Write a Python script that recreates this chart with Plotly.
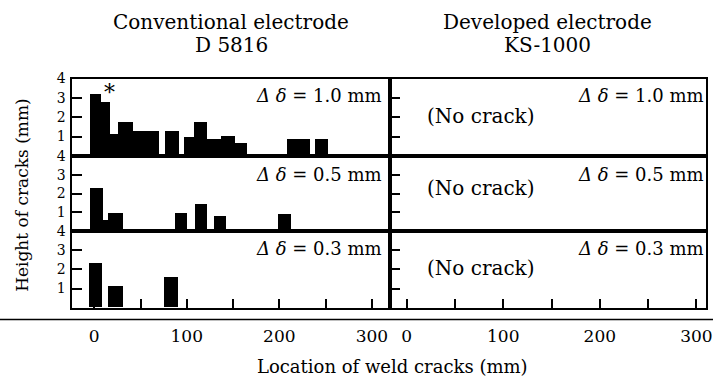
import plotly.graph_objects as go

# ---------------- data (mm) ----------------
# Conventional electrode D5816: crack segments (start, end along weld) and height
d10_start = [-4, 7.5, 17, 25.7, 41.8, 77, 97.5, 108.3, 122.2, 137.2, 152.2, 209, 239]
d10_end   = [7.5, 17, 25.7, 41.8, 70.7, 92, 108.3, 122.2, 137.2, 152.2, 165, 233.7, 253]
d10_h     = [3.2, 2.8, 1.15, 1.8, 1.3, 1.3, 1.0, 1.8, 0.9, 1.05, 0.7, 0.9, 0.9]

d05_start = [-4, 9.6, 15, 88, 109, 130, 199]
d05_end   = [9.6, 15, 31, 100.7, 122, 142.5, 213]
d05_h     = [2.3, 0.6, 1.0, 1.0, 1.45, 0.8, 0.9]

d03_start = [-5, 15, 76]
d03_end   = [8.6, 31, 91]
d03_h     = [2.35, 1.1, 1.6]

delta_labels = ["1.0", "0.5", "0.3"]
col_title_1 = ["Conventional electrode", "Developed electrode"]
col_title_2 = ["D 5816", "KS-1000"]
y_ticks = [1, 2, 3, 4]
x_ticks = [0, 100, 200, 300]

FONT = "DejaVu Serif"
W, H = 719, 386

def px_x(p):
    return p / W

def px_y(p):
    return 1 - p / H

left_dom = [px_x(73), px_x(393)]
right_dom = [px_x(393), px_x(712)]
row_px = [(72, 151), (151, 228), (228, 306)]
row_dom = [[px_y(b), px_y(t)] for t, b in row_px]

left_range = [-23.6, 319.3]
right_range = [-17.5, 310]

fig = go.Figure()
series = [(d10_start, d10_end, d10_h), (d05_start, d05_end, d05_h), (d03_start, d03_end, d03_h)]

layout = dict(
    width=W, height=H, margin=dict(l=0, r=0, t=0, b=0),
    paper_bgcolor="white", plot_bgcolor="white", showlegend=False,
    font=dict(family=FONT, color="black"), bargap=0,
)

label_y = [0.78, 0.75, 0.78]
nocrack_y = [0.52, 0.57, 0.52]
annotations = []
for r in range(3):
    for c in range(2):
        idx = r * 2 + c + 1
        xa = "xaxis" if idx == 1 else f"xaxis{idx}"
        ya = "yaxis" if idx == 1 else f"yaxis{idx}"
        xref = "x" if idx == 1 else f"x{idx}"
        yref = "y" if idx == 1 else f"y{idx}"
        bottom = (r == 2)
        layout[xa] = dict(
            domain=left_dom if c == 0 else right_dom,
            range=left_range if c == 0 else right_range,
            anchor=yref, showgrid=False, zeroline=False,
            showline=True, linecolor="black", linewidth=2, mirror=True,
            ticks="inside" if bottom else "", ticklen=9, tickwidth=2, tickcolor="black",
            tickvals=x_ticks if bottom else [],
            ticktext=[str(v) for v in x_ticks] if bottom else [],
            showticklabels=bottom, ticklabelstandoff=12,
            tickfont=dict(family=FONT, size=17, color="black"),
            minor=dict(dtick=50, tick0=0, ticks="inside" if bottom else "", ticklen=9,
                       tickwidth=2, tickcolor="black") if bottom else dict(ticks=""),
            fixedrange=True,
        )
        layout[ya] = dict(
            domain=row_dom[r], range=[0, 4], anchor=xref,
            showgrid=False, zeroline=False,
            showline=True, linecolor="black", linewidth=2, mirror=True,
            ticks="inside", ticklen=10, tickwidth=2, tickcolor="black",
            tickvals=y_ticks, ticktext=[str(v) for v in y_ticks],
            showticklabels=(c == 0), ticklabelstandoff=2,
            tickfont=dict(family=FONT, size=14, color="black"),
            fixedrange=True,
        )
        if c == 0:
            s, e, h = series[r]
            fig.add_trace(go.Bar(
                x=[(a + b) / 2 for a, b in zip(s, e)],
                width=[b - a for a, b in zip(s, e)],
                y=h, marker=dict(color="black", line=dict(width=0)),
                xaxis=xref, yaxis=yref, hoverinfo="skip",
            ))
        else:
            fig.add_trace(go.Scatter(x=[None], y=[None], mode="markers",
                                     xaxis=xref, yaxis=yref, hoverinfo="skip"))
            annotations.append(dict(
                text="(No crack)", xref=f"{xref} domain", yref=f"{yref} domain",
                x=0.11, y=nocrack_y[r], xanchor="left", yanchor="middle", showarrow=False,
                font=dict(family=FONT, size=20, color="black"),
            ))
        annotations.append(dict(
            text=f"<i>Δ δ</i> = {delta_labels[r]} mm",
            xref=f"{xref} domain", yref=f"{yref} domain",
            x=0.981 if c == 0 else 1.0, y=label_y[r],
            xanchor="right", yanchor="middle", showarrow=False,
            font=dict(family=FONT, size=18, color="black"),
        ))

# asterisk on the tallest crack
annotations.append(dict(text="*", xref="x", yref="y", x=16, y=3.3,
                        showarrow=False, font=dict(family=FONT, size=22, color="black")))

# column titles
for c in range(2):
    dom = left_dom if c == 0 else right_dom
    xc = (dom[0] + dom[1]) / 2
    annotations.append(dict(text=col_title_1[c], xref="paper", yref="paper",
                            x=xc, y=px_y(14), xanchor="center", yanchor="middle",
                            showarrow=False, font=dict(family=FONT, size=20, color="black")))
    annotations.append(dict(text=col_title_2[c], xref="paper", yref="paper",
                            x=xc, y=px_y(38), xanchor="center", yanchor="middle",
                            showarrow=False, font=dict(family=FONT, size=20, color="black")))

annotations.append(dict(text="Height of cracks (mm)", xref="paper", yref="paper",
                        x=px_x(22), y=px_y(191), textangle=-90, showarrow=False,
                        xanchor="center", yanchor="middle",
                        font=dict(family=FONT, size=17, color="black")))
annotations.append(dict(text="Location of weld cracks (mm)", xref="paper", yref="paper",
                        x=px_x(396), y=px_y(366), showarrow=False,
                        xanchor="center", yanchor="middle",
                        font=dict(family=FONT, size=18, color="black")))

layout["annotations"] = annotations
layout["shapes"] = [dict(type="line", xref="paper", yref="paper", x0=0, x1=1,
                         y0=px_y(318), y1=px_y(318), line=dict(color="black", width=1.5))]

fig.update_layout(**layout)
fig.write_html("out.html", config={"displayModeBar": False},
               post_script="document.body.style.margin='0';document.body.style.overflow='hidden';")
